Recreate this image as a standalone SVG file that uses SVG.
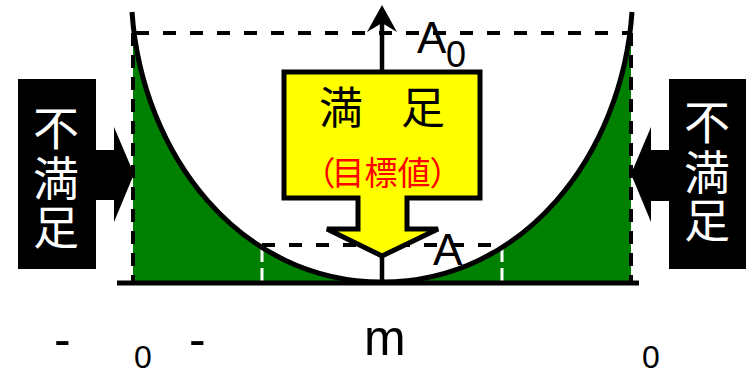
<svg xmlns="http://www.w3.org/2000/svg" width="750" height="372" viewBox="0 0 750 372">
<style>
.lat{font-family:"Liberation Sans",Arial,sans-serif;fill:#000}
.cjk{font-family:"Noto Sans CJK JP","Noto Sans CJK SC",sans-serif}
.dashH{stroke:#000;stroke-width:4;stroke-dasharray:13 14;fill:none}
.dashV{stroke:#000;stroke-width:4;stroke-dasharray:13 9;fill:none}
.dashW{stroke:#fff;stroke-width:3;stroke-dasharray:16 6;fill:none}
.green{fill:#008000}
.side{fill:#000}
.sideTxt{fill:#fff;font-size:46px}
</style>
<defs>
<clipPath id="clipL"><rect x="133" y="0" width="249" height="300"/></clipPath>
<clipPath id="clipR"><rect x="382" y="0" width="249" height="300"/></clipPath>
</defs>
<rect width="750" height="372" fill="#fff"/>

<g id="green-areas">
<path class="green" clip-path="url(#clipL)" d="M132,12 C142,155 240,282 382,282 L132,284 Z"/>
<path class="green" clip-path="url(#clipR)" d="M632,12 C622,155 524,282 382,282 L632,284 Z"/>
</g>

<g id="connectors">
<line class="dashW" x1="262" y1="246" x2="262" y2="283"/>
<line class="dashW" x1="502" y1="246" x2="502" y2="283"/>
<line class="dashH" x1="136" y1="33" x2="628" y2="33"/>
<line class="dashH" x1="262" y1="245" x2="502" y2="245"/>
<line class="dashV" x1="133" y1="33" x2="133" y2="283"/>
<line class="dashV" x1="631" y1="33" x2="631" y2="283"/>
<path id="loss-curve" d="M132,12 C142,155 240,282 382,282 C524,282 622,155 632,12" fill="none" stroke="#000" stroke-width="5"/>
<line x1="117" y1="283" x2="639" y2="283" stroke="#000" stroke-width="5"/>
<line x1="382" y1="22" x2="382" y2="283" stroke="#000" stroke-width="4.5"/>
<path d="M382,5 L397,32 L382,23 L367,32 Z" fill="#000"/>
</g>

<g id="satisfied">
<path d="M284,72 H480 V198 H407 V229 H438 L382,256 L327,229 H358 V198 H284 Z" fill="#ffff00" stroke="#000" stroke-width="5" stroke-linejoin="miter"/>
<text class="cjk" font-size="44" fill="#000" text-anchor="middle" x="341 382 423" y="124">満　足</text>
<text class="cjk" font-size="33" fill="#ff0000" text-anchor="middle" x="319 348 381 414 446" y="185">（目標値）</text>
</g>

<g id="labels">
<text class="lat" font-size="44" x="417" y="53">A</text>
<text class="lat" font-size="36" x="446" y="67">0</text>
<text class="lat" font-size="44" x="433" y="265">A</text>
<text class="lat" font-size="50" x="364" y="355">m</text>
<text class="lat" font-size="50" x="54" y="356">-</text>
<text class="lat" font-size="50" x="189" y="356">-</text>
<text class="lat" font-size="32" x="134" y="368">0</text>
<text class="lat" font-size="32" x="642" y="368">0</text>
</g>

<g id="dissatisfied-left">
<rect class="side" x="18" y="79" width="78" height="190"/>
<rect class="side" x="95" y="150" width="20" height="50"/>
<polygon class="side" points="114,127 114,222 134,174"/>
<text class="cjk sideTxt" text-anchor="middle"><tspan x="56" y="145">不</tspan><tspan x="56" y="195">満</tspan><tspan x="56" y="244">足</tspan></text>
</g>

<g id="dissatisfied-right">
<rect class="side" x="669" y="79" width="77" height="190"/>
<rect class="side" x="650" y="150" width="20" height="51"/>
<polygon class="side" points="651,127 651,222 631,174"/>
<text class="cjk sideTxt" text-anchor="middle"><tspan x="707" y="139">不</tspan><tspan x="707" y="189">満</tspan><tspan x="707" y="237">足</tspan></text>
</g>
</svg>
